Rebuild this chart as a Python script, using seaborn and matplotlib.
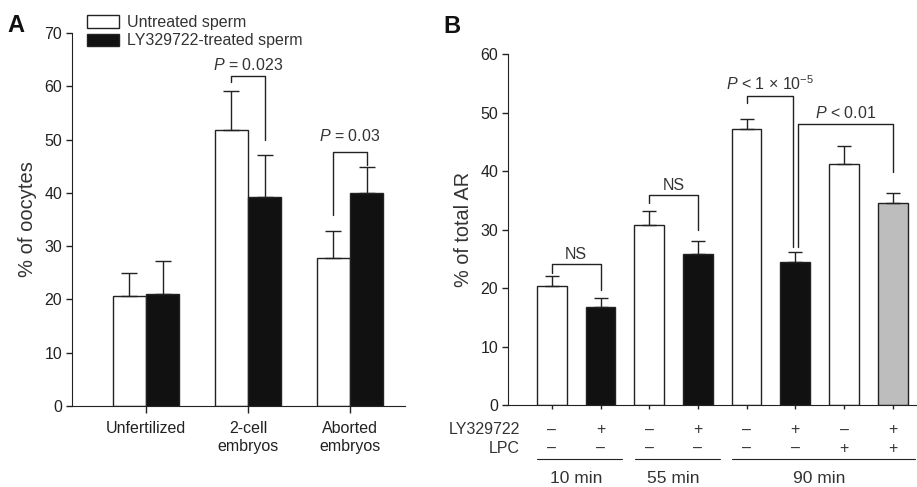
import numpy as np
import pandas as pd
import seaborn as sns
import matplotlib.pyplot as plt
from matplotlib.patches import Patch
import matplotlib.transforms as mtrans

# panel A data
categories_a = ["Unfertilized", "2-cell\nembryos", "Aborted\nembryos"]
groups_a = ["Untreated sperm", "LY329722-treated sperm"]
untreated = [20.6, 51.8, 27.8]
untreated_sem = [4.3, 7.4, 5.1]
treated = [21.0, 39.2, 40.0]
treated_sem = [6.3, 7.9, 4.9]

# panel B data
conditions_b = ["10a", "10b", "55a", "55b", "90a", "90b", "90c", "90d"]
values_b = [20.4, 16.8, 30.7, 25.9, 47.2, 24.4, 41.2, 34.5]
sem_b = [1.7, 1.5, 2.5, 2.1, 1.7, 1.7, 3.0, 1.7]
ly_signs = ["\u2013", "+", "\u2013", "+", "\u2013", "+", "\u2013", "+"]
lpc_signs = ["\u2013", "\u2013", "\u2013", "\u2013", "\u2013", "\u2013", "+", "+"]
time_groups = [("10 min", 0, 1), ("55 min", 2, 3), ("90 min", 4, 7)]

sns.set_style("ticks")
plt.rcParams["font.family"] = ["Liberation Sans", "DejaVu Sans"]
plt.rcParams["mathtext.fontset"] = "custom"
plt.rcParams["mathtext.it"] = "Liberation Sans:italic"
plt.rcParams["mathtext.rm"] = "Liberation Sans"
txt = "#333333"
edge = "#222222"
fs = 11.5
plt.rcParams.update({"text.color": txt, "axes.labelcolor": txt,
                     "xtick.color": edge, "ytick.color": edge,
                     "axes.edgecolor": edge})

fig = plt.figure(figsize=(9.17, 4.87), dpi=100)
ax1 = fig.add_axes([0.0785, 0.1663, 0.3632, 0.7659])
ax2 = fig.add_axes([0.554, 0.1684, 0.445, 0.7206])

# ---------- panel A ----------
dfa = pd.DataFrame({
    "cat": categories_a * 2,
    "group": [groups_a[0]] * 3 + [groups_a[1]] * 3,
    "val": untreated + treated,
    "sem": untreated_sem + treated_sem,
})
sns.barplot(data=dfa, x="cat", y="val", hue="group", order=categories_a,
            hue_order=groups_a, palette={groups_a[0]: "white", groups_a[1]: "#111111"},
            edgecolor=edge, linewidth=1, width=0.65, errorbar=None, legend=False, ax=ax1)
xs = [p.get_x() + p.get_width() / 2 for p in ax1.patches[:6]]
ax1.errorbar(xs, dfa["val"], yerr=[np.zeros(6), dfa["sem"]], fmt="none",
             ecolor=edge, elinewidth=1, capsize=6, capthick=1)
ax1.set_ylim(0, 70)
ax1.set_xlim(-0.725, 2.54)
ax1.set_yticks(range(0, 71, 10))
ax1.set_xlabel("")
ax1.set_ylabel("% of oocytes", fontsize=14.5, labelpad=5)
ax1.tick_params(axis="y", labelsize=fs, length=4, width=1, pad=3)
ax1.tick_params(axis="x", labelsize=fs, length=5, width=1, pad=6)
sns.despine(ax=ax1)

def bracket(ax, x1, x2, top, b1, b2, label, ty):
    ax.plot([x1, x1, x2, x2], [b1, top, top, b2], color=edge, lw=1)
    ax.text((x1 + x2) / 2, ty, label, ha="center", va="center", fontsize=fs)

bracket(ax1, xs[1], xs[4], 62.0, 60.8, 49.9, "$P$ = 0.023", 64.0)
bracket(ax1, xs[2], xs[5], 47.7, 35.8, 45.2, "$P$ = 0.03", 50.6)

handles = [Patch(facecolor="white", edgecolor=edge, lw=1),
           Patch(facecolor="#111111", edgecolor=edge, lw=1)]
fig.legend(handles, groups_a, loc="upper left", bbox_to_anchor=(0.086, 0.985),
           frameon=False, fontsize=fs, handlelength=2.0, handleheight=0.85,
           handletextpad=0.5, borderpad=0, labelspacing=0.2)

# ---------- panel B ----------
colors_b = ["white", "#111111"] * 3 + ["white", "#bdbdbd"]
sns.barplot(x=conditions_b, y=values_b, hue=conditions_b, palette=colors_b,
            edgecolor=edge, linewidth=1, width=0.61, legend=False, ax=ax2)
xb = [p.get_x() + p.get_width() / 2 for p in ax2.patches[:8]]
ax2.errorbar(xb, values_b, yerr=[np.zeros(8), sem_b], fmt="none",
             ecolor=edge, elinewidth=1, capsize=5, capthick=1)
ax2.set_ylim(0, 60)
ax2.set_xlim(-0.9, 7.48)
ax2.set_yticks(range(0, 61, 10))
ax2.set_xticklabels([])
ax2.set_ylabel("% of total AR", fontsize=14.3, labelpad=5)
ax2.tick_params(axis="y", labelsize=fs, length=4, width=1, pad=3)
ax2.tick_params(axis="x", length=3, width=1)
sns.despine(ax=ax2)

bracket(ax2, xb[0], xb[1], 24.1, 22.6, 19.7, "NS", 25.8)
bracket(ax2, xb[2], xb[3], 35.9, 34.5, 29.9, "NS", 37.6)
bracket(ax2, xb[4], xb[5] - 0.05, 52.8, 51.6, 27.0, "$P$ < 1 \u00d7 10$^{-5}$", 55.0)
bracket(ax2, xb[5] + 0.05, xb[7], 48.0, 27.0, 39.8, "$P$ < 0.01", 50.0)

tr = mtrans.blended_transform_factory(ax2.transData, ax2.transAxes)
y_ly, y_lpc, y_line, y_time = -0.071, -0.125, -0.155, -0.21
for x, s1, s2 in zip(xb, ly_signs, lpc_signs):
    ax2.text(x, y_ly, s1, transform=tr, ha="center", va="center", fontsize=fs)
    ax2.text(x, y_lpc, s2, transform=tr, ha="center", va="center", fontsize=fs)
ax2.text(-0.65, y_ly, "LY329722", transform=tr, ha="right", va="center", fontsize=fs)
ax2.text(-0.65, y_lpc, "LPC", transform=tr, ha="right", va="center", fontsize=fs)
for name, i0, i1 in time_groups:
    x0, x1 = xb[i0] - 0.3, xb[i1] + 0.45
    ax2.plot([x0, x1], [y_line, y_line], transform=tr, color=edge, lw=0.8, clip_on=False)
    ax2.text((xb[i0] + xb[i1]) / 2, y_time, name, transform=tr,
             ha="center", va="center", fontsize=12.5)

fig.text(0.008, 0.935, "A", fontsize=17, fontweight="bold", color="#111111")
fig.text(0.483, 0.932, "B", fontsize=17, fontweight="bold", color="#111111")

fig.savefig("out.png", dpi=100)
